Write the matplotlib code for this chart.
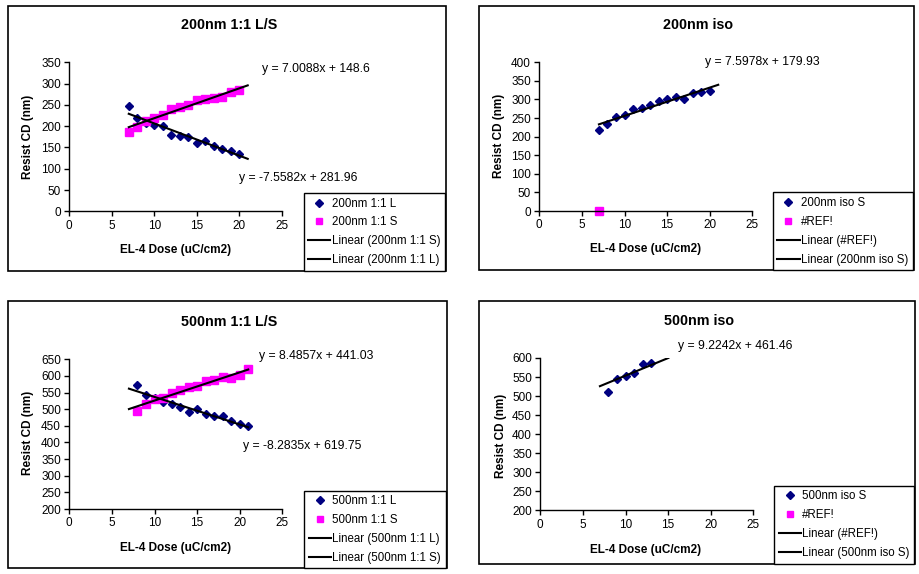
import matplotlib
matplotlib.use("Agg")
import matplotlib.pyplot as plt
from matplotlib.lines import Line2D
from matplotlib.patches import Rectangle
import numpy as np

plt.rcParams['font.family'] = ['Liberation Sans', 'DejaVu Sans']

# ---------------- data ----------------
dose_200ls = [7, 8, 9, 10, 11, 12, 13, 14, 15, 16, 17, 18, 19, 20]
cd_200_L = [247, 219, 207, 202, 200, 180, 177, 175, 161, 166, 153, 146, 142, 134]
cd_200_S = [187, 197, 213, 219, 226, 240, 244, 250, 262, 263, 267, 268, 280, 284]
fit_200_S = (7.0088, 148.6)
fit_200_L = (-7.5582, 281.96)

dose_200iso = [7, 8, 9, 10, 11, 12, 13, 14, 15, 16, 17, 18, 19, 20]
cd_200iso = [218, 233, 254, 257, 275, 277, 286, 295, 301, 307, 301, 318, 321, 324]
ref_x = [7]
ref_y = [0]
fit_200iso = (7.5978, 179.93)

dose_500ls = [8, 9, 10, 11, 12, 13, 14, 15, 16, 17, 18, 19, 20, 21]
cd_500_L = [573, 543, 534, 523, 515, 507, 493, 502, 485, 480, 480, 464, 456, 448]
cd_500_S = [496, 515, 531, 534, 549, 558, 567, 570, 585, 588, 596, 594, 603, 620]
fit_500_L = (-8.2835, 619.75)
fit_500_S = (8.4857, 441.03)

dose_500iso = [8, 9, 10, 11, 12, 13]
cd_500iso = [512, 546, 554, 561, 585, 588]
fit_500iso = (9.2242, 461.46)

trend_range_200 = (7, 21)
trend_range_500ls = (7, 21)
trend_range_500iso = (7, 15.03)

x_ticks = [0, 5, 10, 15, 20, 25]
y_ticks_200ls = [0, 50, 100, 150, 200, 250, 300, 350]
y_ticks_200iso = [0, 50, 100, 150, 200, 250, 300, 350, 400]
y_ticks_500ls = [200, 250, 300, 350, 400, 450, 500, 550, 600, 650]
y_ticks_500iso = [200, 250, 300, 350, 400, 450, 500, 550, 600]

titles = ["200nm 1:1 L/S", "200nm iso", "500nm 1:1 L/S", "500nm iso"]
xlabel = "EL-4 Dose (uC/cm2)"
ylabel = "Resist CD (nm)"

# ---------------- figure ----------------
W, H = 919, 574
fig = plt.figure(figsize=(W / 100, H / 100), dpi=100)
fig.patch.set_facecolor('white')

NAVY = '#000080'
MAG = '#FF00FF'
FS = 8.5
FS_LEG = 8.3
FS_EQ = 8.8
FS_TITLE = 10.3


def fx(px):
    return px / W


def fy(py):
    return 1 - py / H


def make_ax(x0, x1, ytop, ybot):
    ax = fig.add_axes([fx(x0), fy(ybot), fx(x1) - fx(x0), fy(ytop) - fy(ybot)])
    ax.set_facecolor('none')
    for s in ['top', 'right']:
        ax.spines[s].set_visible(False)
    for s in ['left', 'bottom']:
        ax.spines[s].set_linewidth(1.0)
        ax.spines[s].set_color('black')
    ax.tick_params(direction='out', length=3.5, width=1.0, labelsize=FS, pad=2.5, colors='black')
    return ax


def trend(ax, coef, rng):
    xs = np.array(rng, dtype=float)
    ax.plot(xs, coef[0] * xs + coef[1], color='black', lw=1.5)


def border(x0, y0, x1, y1):
    fig.patches.append(Rectangle((fx(x0), fy(y1)), fx(x1) - fx(x0), fy(y0) - fy(y1),
                                 transform=fig.transFigure, fill=False,
                                 edgecolor='black', lw=1.2, zorder=0))


def legend(handles, labels, right, bottom):
    lg = fig.legend(handles, labels, loc='lower right',
                    bbox_to_anchor=(fx(right), fy(bottom)),
                    bbox_transform=fig.transFigure,
                    fontsize=FS_LEG, frameon=True, fancybox=False,
                    edgecolor='black', framealpha=1, borderaxespad=0,
                    handlelength=1.95, handletextpad=0.1, labelspacing=0.6,
                    borderpad=0.38)
    lg.get_frame().set_linewidth(1.0)
    return lg


def dia_handle():
    return Line2D([], [], ls='none', marker='D', color=NAVY, markersize=3.6)


def sq_handle():
    return Line2D([], [], ls='none', marker='s', color=MAG, markersize=4.6)


def line_handle():
    return Line2D([], [], color='black', lw=1.5)


def decorate(title, title_xy, xl_xy, yl_xy):
    fig.text(fx(title_xy[0]), fy(title_xy[1]), title, ha='center', va='center',
             fontsize=FS_TITLE, fontweight='bold')
    fig.text(fx(xl_xy[0]), fy(xl_xy[1]), xlabel, ha='center', va='center',
             fontsize=FS, fontweight='bold')
    fig.text(fx(yl_xy[0]), fy(yl_xy[1]), ylabel, ha='center', va='center',
             fontsize=FS, fontweight='bold', rotation=90)


# chart borders
border(8, 6, 446, 271)
border(479, 6, 914, 270)
border(8, 301, 447, 568)
border(479, 301, 915, 564)

# ---- Panel 1 ----
ax1 = make_ax(69.3, 281.7, 62.3, 211.3)
ax1.plot(dose_200ls, cd_200_L, ls='none', marker='D', color=NAVY, markersize=4.0)
ax1.plot(dose_200ls, cd_200_S, ls='none', marker='s', color=MAG, markersize=5.4)
trend(ax1, fit_200_S, trend_range_200)
trend(ax1, fit_200_L, trend_range_200)
ax1.set_xlim(0, 25)
ax1.set_ylim(0, 350)
ax1.set_xticks(x_ticks)
ax1.set_yticks(y_ticks_200ls)
decorate(titles[0], (228.7, 25), (176, 250), (28.3, 137))
fig.text(fx(261.7), fy(69), "y = 7.0088x + 148.6", fontsize=FS_EQ, va='center', ha='left')
fig.text(fx(239.3), fy(178.3), "y = -7.5582x + 281.96", fontsize=FS_EQ, va='center', ha='left')
legend([dia_handle(), sq_handle(), line_handle(), line_handle()],
       ["200nm 1:1 L", "200nm 1:1 S", "Linear (200nm 1:1 S)", "Linear (200nm 1:1 L)"],
       444.5, 270.7)

# ---- Panel 2 ----
ax2 = make_ax(539.3, 752.3, 62.3, 211)
ax2.plot(dose_200iso, cd_200iso, ls='none', marker='D', color=NAVY, markersize=4.0)
ax2.plot(ref_x, ref_y, ls='none', marker='s', color=MAG, markersize=5.4, clip_on=False)
trend(ax2, fit_200iso, trend_range_200)
ax2.set_xlim(0, 25)
ax2.set_ylim(0, 400)
ax2.set_xticks(x_ticks)
ax2.set_yticks(y_ticks_200iso)
decorate(titles[1], (697.7, 25), (646, 249), (499, 136))
fig.text(fx(705), fy(62), "y = 7.5978x + 179.93", fontsize=FS_EQ, va='center', ha='left')
legend([dia_handle(), sq_handle(), line_handle(), line_handle()],
       ["200nm iso S", "#REF!", "Linear (#REF!)", "Linear (200nm iso S)"],
       912.5, 270)

# ---- Panel 3 ----
ax3 = make_ax(69.3, 282.3, 359.3, 509)
ax3.plot(dose_500ls, cd_500_L, ls='none', marker='D', color=NAVY, markersize=4.0)
ax3.plot(dose_500ls, cd_500_S, ls='none', marker='s', color=MAG, markersize=5.4)
trend(ax3, fit_500_L, trend_range_500ls)
trend(ax3, fit_500_S, trend_range_500ls)
ax3.set_xlim(0, 25)
ax3.set_ylim(200, 650)
ax3.set_xticks(x_ticks)
ax3.set_yticks(y_ticks_500ls)
decorate(titles[2], (228.7, 322.3), (176, 547.7), (28.3, 433))
fig.text(fx(259), fy(355.7), "y = 8.4857x + 441.03", fontsize=FS_EQ, va='center', ha='left')
fig.text(fx(243.3), fy(445.7), "y = -8.2835x + 619.75", fontsize=FS_EQ, va='center', ha='left')
legend([dia_handle(), sq_handle(), line_handle(), line_handle()],
       ["500nm 1:1 L", "500nm 1:1 S", "Linear (500nm 1:1 L)", "Linear (500nm 1:1 S)"],
       445.5, 568.3)

# ---- Panel 4 ----
ax4 = make_ax(540.3, 753.3, 358, 510.3)
ax4.plot(dose_500iso, cd_500iso, ls='none', marker='D', color=NAVY, markersize=4.0)
ax4.plot(ref_x, ref_y, ls='none', marker='s', color=MAG, markersize=5.4)
trend(ax4, fit_500iso, trend_range_500iso)
ax4.set_xlim(0, 25)
ax4.set_ylim(200, 600)
ax4.set_xticks(x_ticks)
ax4.set_yticks(y_ticks_500iso)
decorate(titles[3], (699.3, 320.7), (646, 550), (500.7, 435.7))
fig.text(fx(678.3), fy(345.7), "y = 9.2242x + 461.46", fontsize=FS_EQ, va='center', ha='left')
legend([dia_handle(), sq_handle(), line_handle(), line_handle()],
       ["500nm iso S", "#REF!", "Linear (#REF!)", "Linear (500nm iso S)"],
       914, 563.5)

fig.savefig("out.png", dpi=100, facecolor='white')
